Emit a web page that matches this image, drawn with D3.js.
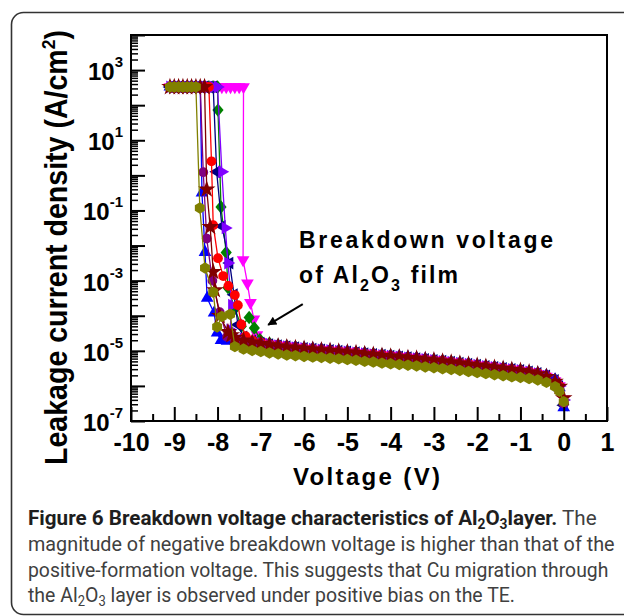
<!DOCTYPE html>
<html>
<head>
<meta charset="utf-8">
<script src="https://cdn.jsdelivr.net/npm/d3@7"></script>
<style>
  html, body { margin: 0; padding: 0; background: #fff; }
  svg { display: block; }
</style>
</head>
<body>
<svg id="chart" width="624" height="616"></svg>
<script>
// axis values
const xTicks = [-10, -9, -8, -7, -6, -5, -4, -3, -2, -1, 0, 1];
const xMinor = [-9.5, -8.5, -7.5, -6.5, -5.5, -4.5, -3.5, -2.5, -1.5, -0.5, 0.5];
const yLabelExps = [-7, -5, -3, -1, 1, 3];

// compliance plateau (log10 of A/cm2)
const complianceExp = 2.52;
const plateauV = [-9.1, -9.0, -8.9, -8.8, -8.7, -8.6, -8.5, -8.4, -8.3, -8.2, -8.1, -8.0, -7.9, -7.8, -7.7, -7.6, -7.5, -7.4];

// shared sweep grid of the low-field part (V)
const bandV = [-7.8, -7.6, -7.4, -7.2, -7.0, -6.8, -6.6, -6.4, -6.2, -6.0, -5.8, -5.6, -5.4, -5.2, -5.0, -4.8, -4.6, -4.4,
  -4.2, -4.0, -3.8, -3.6, -3.4, -3.2, -3.0, -2.8, -2.6, -2.4, -2.2, -2.0, -1.8, -1.6, -1.4, -1.2, -1.0, -0.8, -0.6,
  -0.4, -0.2, -0.1, 0];

// per device: last plateau voltage, breakdown points [V, log10 J], low-field log10 J (right aligned on bandV)
const magentaEnd = -7.4;
const magentaDrop = [[-7.41, -2.41], [-7.31, -3.07], [-7.24, -3.63], [-7.16, -4.1], [-7.09, -4.55]];
const magentaBand = [-4.74, -4.80, -4.84, -4.87, -4.90, -4.93, -4.95, -4.97, -4.99, -5.01,
  -5.03, -5.05, -5.07, -5.10, -5.12, -5.14, -5.17, -5.19, -5.21, -5.24,
  -5.26, -5.29, -5.32, -5.35, -5.38, -5.41, -5.44, -5.47, -5.50, -5.53,
  -5.57, -5.61, -5.66, -5.73, -5.86, -6.00, -6.38];

const greenEnd = -8.0;
const greenDrop = [[-7.99, 1.86], [-7.92, -0.9], [-7.80, -2.2], [-7.76, -3.2], [-7.60, -3.8], [-7.45, -4.3],
  [-7.27, -4.05], [-7.15, -4.35], [-7.02, -4.68]];
const greenBand = [-4.78, -4.83, -4.86, -4.89, -4.92, -4.94, -4.96, -4.98, -5.00, -5.02,
  -5.04, -5.06, -5.09, -5.11, -5.13, -5.16, -5.18, -5.20, -5.23, -5.25,
  -5.28, -5.31, -5.34, -5.37, -5.40, -5.43, -5.46, -5.49, -5.52, -5.55,
  -5.59, -5.63, -5.70, -5.82, -5.98, -6.52];

const navyEnd = -8.1;
const navyDrop = [[-8.02, 0.1], [-7.90, -1.45], [-7.72, -2.5], [-7.62, -3.4], [-7.53, -4.26], [-7.40, -4.6]];
const navyBand = [-4.72, -4.78, -4.82, -4.85, -4.88, -4.91, -4.93, -4.95, -4.97, -4.99,
  -5.01, -5.03, -5.05, -5.08, -5.10, -5.12, -5.15, -5.17, -5.19, -5.22,
  -5.24, -5.27, -5.29, -5.32, -5.35, -5.38, -5.41, -5.44, -5.47, -5.50,
  -5.53, -5.56, -5.60, -5.64, -5.71, -5.84, -6.02, -6.55];

const violetEnd = -8.0;
const violetDrop = [[-7.90, 0.1], [-7.82, -1.5], [-7.76, -2.5], [-7.67, -3.7], [-7.71, -4.4], [-7.58, -4.62]];
const violetBand = [-4.66, -4.73, -4.78, -4.82, -4.85, -4.88, -4.91, -4.93, -4.95, -4.97,
  -4.99, -5.01, -5.03, -5.06, -5.08, -5.11, -5.13, -5.15, -5.17, -5.20,
  -5.22, -5.24, -5.27, -5.30, -5.32, -5.35, -5.38, -5.41, -5.44, -5.47,
  -5.50, -5.53, -5.56, -5.60, -5.65, -5.72, -5.85, -6.00, -6.40];

const redEnd = -8.2;
const redDrop = [[-8.14, 0.4], [-8.10, -1.42], [-7.99, -2.36], [-7.87, -2.87], [-7.75, -3.15], [-7.60, -3.41],
  [-7.53, -3.70], [-7.45, -4.25], [-7.35, -4.58]];
const redBand = [-4.70, -4.76, -4.81, -4.84, -4.87, -4.90, -4.92, -4.94, -4.96, -4.98,
  -5.00, -5.02, -5.04, -5.07, -5.09, -5.11, -5.14, -5.16, -5.18, -5.21,
  -5.23, -5.26, -5.28, -5.31, -5.34, -5.37, -5.40, -5.43, -5.46, -5.49,
  -5.52, -5.55, -5.59, -5.63, -5.70, -5.83, -6.00, -6.48];

const blueEnd = -8.4;
const blueDrop = [[-8.36, -0.5], [-8.29, -2.19], [-8.24, -3.5], [-8.08, -3.92], [-8.01, -4.49], [-7.92, -4.7], [-7.78, -4.72]];
const blueBand = [-4.68, -4.72, -4.76, -4.79, -4.82, -4.85, -4.88, -4.90, -4.92, -4.94,
  -4.96, -4.98, -5.00, -5.02, -5.05, -5.07, -5.10, -5.12, -5.14, -5.16,
  -5.18, -5.21, -5.23, -5.26, -5.29, -5.32, -5.35, -5.38, -5.41, -5.44,
  -5.47, -5.50, -5.53, -5.56, -5.60, -5.64, -5.70, -5.82, -6.05, -6.62];

const purpleEnd = -8.4;
const purpleDrop = [[-8.33, 0.09], [-8.25, -1.8], [-8.12, -3.0], [-7.95, -3.9], [-7.78, -4.6]];
const purpleBand = [-4.70, -4.74, -4.78, -4.82, -4.85, -4.88, -4.91, -4.93, -4.95, -4.97,
  -4.99, -5.01, -5.03, -5.05, -5.08, -5.10, -5.12, -5.15, -5.17, -5.19,
  -5.21, -5.23, -5.26, -5.28, -5.31, -5.34, -5.37, -5.40, -5.43, -5.46,
  -5.49, -5.52, -5.55, -5.58, -5.62, -5.67, -5.75, -5.90, -6.08, -6.50];

const maroonEnd = -8.3;
const maroonDrop = [[-8.25, -0.4], [-8.17, -1.47], [-8.10, -2.75], [-8.06, -3.27], [-7.95, -4.0], [-7.76, -4.46], [-7.68, -4.55]];
const maroonBand = [-4.62, -4.70, -4.76, -4.80, -4.84, -4.87, -4.90, -4.92, -4.94, -4.96,
  -4.98, -5.00, -5.02, -5.04, -5.06, -5.09, -5.11, -5.14, -5.16, -5.18,
  -5.20, -5.22, -5.25, -5.27, -5.30, -5.33, -5.36, -5.39, -5.42, -5.45,
  -5.48, -5.51, -5.54, -5.57, -5.61, -5.66, -5.74, -5.88, -6.02, -6.35];

const oliveEnd = -8.5;
const oliveDrop = [[-8.41, -0.93], [-8.29, -2.64], [-8.10, -3.33], [-8.01, -4.32], [-7.90, -4.02], [-7.71, -3.96], [-7.60, -4.88]];
const oliveBand = [-4.95, -4.99, -5.02, -5.06, -5.09, -5.12, -5.14, -5.16, -5.18, -5.19,
  -5.21, -5.23, -5.25, -5.27, -5.30, -5.32, -5.35, -5.37, -5.39, -5.41,
  -5.43, -5.46, -5.48, -5.51, -5.53, -5.56, -5.59, -5.62, -5.65, -5.68,
  -5.71, -5.74, -5.76, -5.79, -5.83, -5.90, -6.02, -6.15, -6.45];

// drawing order, bottom to top
const devices = [
  { end: magentaEnd, drop: magentaDrop, band: magentaBand, color: "#ff00ff", mark: "down" },
  { end: greenEnd, drop: greenDrop, band: greenBand, color: "#008000", mark: "diamond" },
  { end: navyEnd, drop: navyDrop, band: navyBand, color: "#000080", mark: "left" },
  { end: violetEnd, drop: violetDrop, band: violetBand, color: "#8000ff", mark: "right" },
  { end: redEnd, drop: redDrop, band: redBand, color: "#ff0000", mark: "circle" },
  { end: blueEnd, drop: blueDrop, band: blueBand, color: "#0000ff", mark: "up" },
  { end: purpleEnd, drop: purpleDrop, band: purpleBand, color: "#800080", mark: "circle" },
  { end: maroonEnd, drop: maroonDrop, band: maroonBand, color: "#800000", mark: "star" },
  { end: oliveEnd, drop: oliveDrop, band: oliveBand, color: "#808000", mark: "hexagon" }
];

const svg = d3.select("#chart");
const figFont = "'Liberation Sans', Arial, sans-serif";

// card border
svg.append("rect")
  .attr("x", 11.5).attr("y", 12.5)
  .attr("width", 700).attr("height", 602)
  .attr("rx", 12)
  .attr("fill", "none")
  .attr("stroke", "#333")
  .attr("stroke-width", 1.6);

const plotL = 131, plotR = 607, plotT = 35, plotB = 421;
const x = d3.scaleLinear().domain([-10, 1]).range([plotL, plotR]);
const y = d3.scaleLog().domain([1e-7, 1e4]).range([plotB, plotT]);

// build points of one device
function buildPoints(dev) {
  const pts = plateauV.filter(v => v <= dev.end + 1e-9).map(v => [v, Math.pow(10, complianceExp)]);
  dev.drop.forEach(d => pts.push([d[0], Math.pow(10, d[1])]));
  const bv = bandV.slice(bandV.length - dev.band.length);
  dev.band.forEach((e, i) => pts.push([bv[i], Math.pow(10, e)]));
  return pts;
}

const hexagon = {
  draw(ctx, size) {
    const r = Math.sqrt(size / 2.598);
    for (let i = 0; i < 6; i++) {
      const a = Math.PI / 6 + i * Math.PI / 3;
      if (i === 0) ctx.moveTo(r * Math.cos(a), r * Math.sin(a));
      else ctx.lineTo(r * Math.cos(a), r * Math.sin(a));
    }
    ctx.closePath();
  }
};
const diamond = {
  draw(ctx, size) {
    const w = Math.sqrt(size / 2.4), h = w * 1.2;
    ctx.moveTo(0, -h); ctx.lineTo(w, 0); ctx.lineTo(0, h); ctx.lineTo(-w, 0); ctx.closePath();
  }
};

function markerPath(mark) {
  if (mark === "circle") return d3.symbol(d3.symbolCircle, 75)();
  if (mark === "star") return d3.symbol(d3.symbolStar, 95)();
  if (mark === "hexagon") return d3.symbol(hexagon, 85)();
  if (mark === "diamond") return d3.symbol(diamond, 75)();
  return d3.symbol(d3.symbolTriangle, 70)();
}
const markRotate = { up: 0, down: 180, left: -90, right: 90 };

const line = d3.line().x(d => x(d[0])).y(d => y(d[1]));

const plot = svg.append("g");
devices.forEach(dev => {
  const pts = buildPoints(dev);
  const g = plot.append("g");
  g.append("path")
    .datum(pts)
    .attr("fill", "none")
    .attr("stroke", dev.color)
    .attr("stroke-width", 1.3)
    .attr("d", line);
  const rot = markRotate[dev.mark] || 0;
  g.selectAll("path.m")
    .data(pts)
    .join("path")
    .attr("class", "m")
    .attr("d", markerPath(dev.mark))
    .attr("transform", d => `translate(${x(d[0])},${y(d[1])}) rotate(${rot})`)
    .attr("fill", dev.color);
});

// ticks (inward)
const yMajor = d3.range(-7, 5).map(e => Math.pow(10, e));
const yMinorVals = [];
d3.range(-7, 4).forEach(e => { for (let m = 2; m <= 9; m++) yMinorVals.push(m * Math.pow(10, e)); });

function styleAxis(g) {
  g.select(".domain").remove();
  g.selectAll("line").attr("stroke", "#000").attr("stroke-width", 2);
}

svg.append("g").attr("transform", `translate(${plotL},0)`)
  .call(d3.axisLeft(y).tickValues(yMajor).tickSize(-14).tickFormat(""))
  .call(styleAxis);
svg.append("g").attr("transform", `translate(${plotL},0)`)
  .call(d3.axisLeft(y).tickValues(yMinorVals).tickSize(-7).tickFormat(""))
  .call(styleAxis)
  .selectAll("line").attr("stroke-width", 1.5);

svg.append("g").attr("transform", `translate(0,${plotB})`)
  .call(d3.axisBottom(x).tickValues(xTicks).tickSize(-14).tickSizeOuter(0).tickPadding(12)
    .tickFormat(d => String(d)))
  .call(styleAxis)
  .call(g => g.selectAll("text")
    .attr("font-family", figFont)
    .attr("font-size", 25)
    .attr("font-weight", "bold")
    .attr("fill", "#000"));
svg.append("g").attr("transform", `translate(0,${plotB})`)
  .call(d3.axisBottom(x).tickValues(xMinor).tickSize(-7).tickFormat(""))
  .call(styleAxis);

// y tick labels 10^n
yLabelExps.forEach(e => {
  const t = svg.append("text")
    .attr("x", 123)
    .attr("y", y(Math.pow(10, e)) + 10)
    .attr("text-anchor", "end")
    .attr("font-family", figFont)
    .attr("font-weight", "bold")
    .attr("font-size", 24)
    .attr("fill", "#000");
  t.append("tspan").text("10");
  t.append("tspan").attr("dy", -13).attr("font-size", 15).text(String(e));
});

// frame
svg.append("rect")
  .attr("x", plotL).attr("y", plotT)
  .attr("width", plotR - plotL).attr("height", plotB - plotT)
  .attr("fill", "none")
  .attr("stroke", "#000")
  .attr("stroke-width", 2);

// axis titles
const yt = svg.append("text")
  .attr("transform", `translate(67,${(30 + 465) / 2}) rotate(-90)`)
  .attr("text-anchor", "middle")
  .attr("font-family", figFont)
  .attr("font-weight", "bold")
  .attr("font-size", 31)
  .attr("textLength", 435)
  .attr("lengthAdjust", "spacingAndGlyphs")
  .attr("fill", "#000");
yt.append("tspan").text("Leakage current density (A/cm");
yt.append("tspan").attr("dy", -12).attr("font-size", 19).text("2");
yt.append("tspan").attr("dy", 12).text(")");

svg.append("text")
  .attr("x", 293).attr("y", 485)
  .attr("font-family", figFont)
  .attr("font-weight", "bold")
  .attr("font-size", 24)
  .attr("textLength", 147)
  .attr("lengthAdjust", "spacing")
  .attr("fill", "#000")
  .text("Voltage (V)");

// annotation
svg.append("text")
  .attr("x", 299).attr("y", 248)
  .attr("font-family", figFont)
  .attr("font-weight", "bold")
  .attr("font-size", 23)
  .attr("textLength", 254)
  .attr("lengthAdjust", "spacing")
  .attr("fill", "#000")
  .text("Breakdown voltage");
const a2 = svg.append("text")
  .attr("x", 299).attr("y", 283)
  .attr("font-family", figFont)
  .attr("font-weight", "bold")
  .attr("font-size", 23)
  .attr("textLength", 159)
  .attr("lengthAdjust", "spacing")
  .attr("fill", "#000");
a2.append("tspan").text("of Al");
a2.append("tspan").attr("dy", 8).attr("font-size", 16).text("2");
a2.append("tspan").attr("dy", -8).text("O");
a2.append("tspan").attr("dy", 8).attr("font-size", 16).text("3");
a2.append("tspan").attr("dy", -8).text(" film");

svg.append("defs").append("marker")
  .attr("id", "head")
  .attr("viewBox", "0 0 10 10")
  .attr("refX", 9).attr("refY", 5)
  .attr("markerWidth", 11).attr("markerHeight", 9)
  .attr("markerUnits", "userSpaceOnUse")
  .attr("orient", "auto")
  .append("path").attr("d", "M0,0L10,5L0,10z").attr("fill", "#000");
svg.append("line")
  .attr("x1", x(-6.03)).attr("y1", y(Math.pow(10, -3.67)))
  .attr("x2", x(-6.83)).attr("y2", y(Math.pow(10, -4.26)))
  .attr("stroke", "#000")
  .attr("stroke-width", 2)
  .attr("marker-end", "url(#head)");

// caption: each line is squeezed horizontally to the width it has in the figure
const capFont = "Roboto, 'Liberation Sans', sans-serif";
const capLines = [
  { y: 525, len: 569 },
  { y: 551, len: 587, text: "magnitude of negative breakdown voltage is higher than that of the" },
  { y: 577, len: 581, text: "positive-formation voltage. This suggests that Cu migration through" },
  { y: 602, len: 487 }
];
function capText(l) {
  const g = svg.append("g").attr("transform", `translate(28,${l.y})`);
  const t = g.append("text")
    .attr("font-family", capFont)
    .attr("font-size", 21)
    .attr("fill", "#404040");
  return { g, t, l };
}
function fitCap(c) {
  const w = c.t.node().getBBox().width;
  c.g.attr("transform", `translate(28,${c.l.y}) scale(${c.l.len / w},1)`);
}
const c1 = capText(capLines[0]);
c1.t.append("tspan").attr("font-weight", "bold").attr("fill", "#1e1e1e")
  .text("Figure 6 Breakdown voltage characteristics of Al");
c1.t.append("tspan").attr("font-weight", "bold").attr("fill", "#1e1e1e")
  .attr("dy", 4).attr("font-size", 14).text("2");
c1.t.append("tspan").attr("font-weight", "bold").attr("fill", "#1e1e1e")
  .attr("dy", -4).text("O");
c1.t.append("tspan").attr("font-weight", "bold").attr("fill", "#1e1e1e")
  .attr("dy", 4).attr("font-size", 14).text("3");
c1.t.append("tspan").attr("font-weight", "bold").attr("fill", "#1e1e1e")
  .attr("dy", -4).text("layer.");
c1.t.append("tspan").text(" The");
fitCap(c1);
const c2 = capText(capLines[1]);
c2.t.text(capLines[1].text);
fitCap(c2);
const c3 = capText(capLines[2]);
c3.t.text(capLines[2].text);
fitCap(c3);
const c4 = capText(capLines[3]);
c4.t.append("tspan").text("the Al");
c4.t.append("tspan").attr("dy", 4).attr("font-size", 14).text("2");
c4.t.append("tspan").attr("dy", -4).text("O");
c4.t.append("tspan").attr("dy", 4).attr("font-size", 14).text("3");
c4.t.append("tspan").attr("dy", -4).text(" layer is observed under positive bias on the TE.");
fitCap(c4);
</script>
</body>
</html>
